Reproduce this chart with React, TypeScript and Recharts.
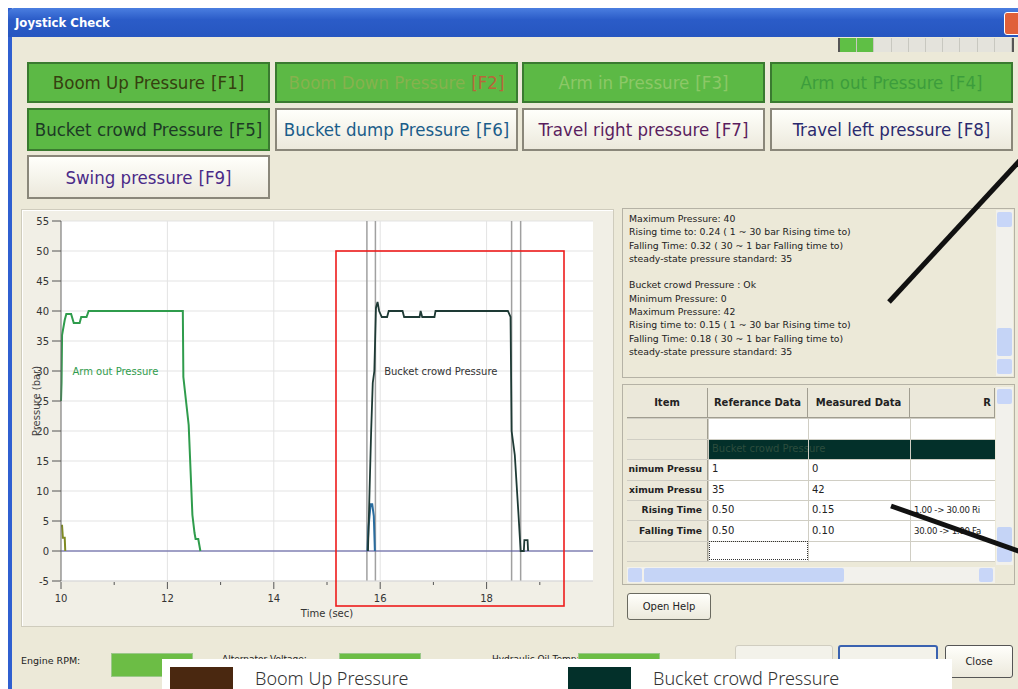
import React from "react"
import { LineChart, Line, XAxis, YAxis, CartesianGrid, ReferenceLine, ReferenceDot } from "recharts"

// pressure traces, time in sec / pressure in bar
const boomUp = [
  { t: 10.0, p: 4.2 },
  { t: 10.02, p: 4.2 },
  { t: 10.035, p: 2.2 },
  { t: 10.07, p: 2.2 },
  { t: 10.08, p: 0 },
]

const armOut = [
  { t: 10.0, p: 25 },
  { t: 10.01, p: 28 },
  { t: 10.02, p: 36 },
  { t: 10.07, p: 38.5 },
  { t: 10.1, p: 39.5 },
  { t: 10.19, p: 39.5 },
  { t: 10.24, p: 38 },
  { t: 10.35, p: 38 },
  { t: 10.38, p: 39 },
  { t: 10.48, p: 39 },
  { t: 10.52, p: 40 },
  { t: 12.29, p: 40 },
  { t: 12.3, p: 29 },
  { t: 12.35, p: 25 },
  { t: 12.4, p: 21 },
  { t: 12.47, p: 6 },
  { t: 12.51, p: 3 },
  { t: 12.53, p: 2 },
  { t: 12.58, p: 2 },
  { t: 12.62, p: 0 },
]

const bucketDump = [
  { t: 15.76, p: 0 },
  { t: 15.78, p: 4 },
  { t: 15.82, p: 7.8 },
  { t: 15.85, p: 7.8 },
  { t: 15.88, p: 5.8 },
  { t: 15.9, p: 0 },
]

const bucketCrowd = [
  { t: 15.77, p: 0 },
  { t: 15.8, p: 10 },
  { t: 15.83, p: 20 },
  { t: 15.86, p: 28 },
  { t: 15.89, p: 30 },
  { t: 15.92, p: 40.5 },
  { t: 15.95, p: 41.5 },
  { t: 15.98, p: 40 },
  { t: 16.03, p: 39 },
  { t: 16.13, p: 39 },
  { t: 16.16, p: 40 },
  { t: 16.42, p: 40 },
  { t: 16.45, p: 39 },
  { t: 16.74, p: 39 },
  { t: 16.76, p: 40 },
  { t: 16.79, p: 39 },
  { t: 17.02, p: 39 },
  { t: 17.04, p: 40 },
  { t: 18.4, p: 40 },
  { t: 18.45, p: 39 },
  { t: 18.47, p: 20 },
  { t: 18.53, p: 16 },
  { t: 18.6, p: 6 },
  { t: 18.64, p: 0 },
  { t: 18.7, p: 0 },
  { t: 18.71, p: 1.8 },
  { t: 18.77, p: 1.8 },
  { t: 18.78, p: 0 },
]

const cursors = [15.75, 15.91, 18.47, 18.64]
const timeTicks = [10, 11, 12, 13, 14, 15, 16, 17, 18, 19]
const pressureTicks = [-5, 0, 5, 10, 15, 20, 25, 30, 35, 40, 45, 50, 55]

const buttons = [
  { name: "Boom Up Pressure", key: "[F1]", on: true, color: "#35400f", keyColor: "#35400f" },
  { name: "Boom Down Pressure", key: "[F2]", on: true, color: "#86b24e", keyColor: "#b8663a" },
  { name: "Arm in Pressure", key: "[F3]", on: true, color: "#8cc867", keyColor: "#8cc867" },
  { name: "Arm out Pressure", key: "[F4]", on: true, color: "#3c9d3c", keyColor: "#3c9d3c" },
  { name: "Bucket crowd Pressure", key: "[F5]", on: true, color: "#1d3a26", keyColor: "#1d3a26" },
  { name: "Bucket dump Pressure", key: "[F6]", on: false, color: "#1b5d8a", keyColor: "#1b5d8a" },
  { name: "Travel right pressure", key: "[F7]", on: false, color: "#5a1d5e", keyColor: "#5a1d5e" },
  { name: "Travel left pressure", key: "[F8]", on: false, color: "#2b2a6e", keyColor: "#2b2a6e" },
  { name: "Swing pressure", key: "[F9]", on: false, color: "#4a2a88", keyColor: "#4a2a88" },
]

const infoLines = [
  "Maximum Pressure: 40",
  "Rising time to: 0.24 ( 1 ~ 30 bar Rising time to)",
  "Falling Time: 0.32 ( 30 ~ 1 bar Falling time to)",
  "steady-state pressure standard: 35",
  "",
  "Bucket crowd Pressure : Ok",
  "Minimum Pressure: 0",
  "Maximum Pressure: 42",
  "Rising time to: 0.15 ( 1 ~ 30 bar Rising time to)",
  "Falling Time: 0.18 ( 30 ~ 1 bar Falling time to)",
  "steady-state pressure standard: 35",
]

const tableHeader = ["Item", "Referance Data", "Measured Data", "R"]
const tableRows = [
  ["nimum Pressu", "1", "0", ""],
  ["ximum Pressu", "35", "42", ""],
  ["Rising Time", "0.50", "0.15", "1.00 -> 30.00 Ri"],
  ["Falling Time", "0.50", "0.10", "30.00 -> 1.00 Fa"],
]

const legendItems = [
  { name: "Boom Up Pressure", color: "#4a2810" },
  { name: "Bucket crowd Pressure", color: "#03302a" },
]

const uiFont = "'DejaVu Sans Condensed', 'DejaVu Sans', sans-serif"
const smallFont = "'DejaVu Sans', sans-serif"

function TimeTick(props: any) {
  const { x, y, payload } = props
  const major = payload.value % 2 === 0
  return (
    <g>
      <line x1={x} x2={x} y1={y + 1} y2={y + (major ? 8 : 4)} stroke="#555" />
      {major && (
        <text x={x} y={y + 21} textAnchor="middle" fontSize={10} fill="#333" fontFamily={smallFont}>
          {payload.value}
        </text>
      )}
    </g>
  )
}

function Btn({ b, left, top, w, h }: any) {
  return (
    <div
      style={{
        position: "absolute",
        left,
        top,
        width: w,
        height: h,
        boxSizing: "border-box",
        border: b.on ? "2px solid #3a7a30" : "2px solid #8a877a",
        background: b.on ? "#5cb945" : "linear-gradient(#fffffb, #ece9dc)",
        display: "flex",
        alignItems: "center",
        justifyContent: "center",
        fontFamily: uiFont,
        fontSize: 18.5,
        color: b.color,
        whiteSpace: "nowrap",
      }}
    >
      {b.name} <span style={{ color: b.keyColor, marginLeft: 6 }}>{b.key}</span>
    </div>
  )
}

export default function App() {
  const colX = [27, 275, 522, 770]
  const rowY = [62, 108]
  const cols = [627, 708, 808, 910, 995]
  return (
    <div style={{ position: "absolute", left: 0, top: 0, width: 1018, height: 689, background: "#fff", overflow: "hidden" }}>
      {/* window frame */}
      <div style={{ position: "absolute", left: 8, top: 8, width: 1020, height: 690, background: "#ece9d8", borderLeft: "4px solid #2f5fd0" }} />
      <div
        style={{
          position: "absolute",
          left: 8,
          top: 8,
          width: 1010,
          height: 29,
          background: "linear-gradient(#4a7ee0, #2b5cc8 40%, #2656c0)",
          borderTopLeftRadius: 6,
          color: "#fff",
          fontFamily: uiFont,
          fontWeight: "bold",
          fontSize: 13,
          lineHeight: "29px",
          paddingLeft: 7,
          boxSizing: "border-box",
        }}
      >
        Joystick Check
      </div>
      <div style={{ position: "absolute", left: 1004, top: 12, width: 20, height: 21, background: "#e0603a", border: "1px solid #fff", borderRadius: 3 }} />

      {/* progress */}
      <div style={{ position: "absolute", left: 838, top: 38, width: 172, height: 14, background: "#e4e3dc", borderLeft: "2px solid #555", borderRight: "2px solid #555", display: "flex" }}>
        {Array.from({ length: 10 }).map((_, i) => (
          <div key={i} style={{ flex: 1, borderRight: "1px solid #c8c8c0", background: i < 2 ? "#5fbf45" : "transparent" }} />
        ))}
      </div>

      {buttons.slice(0, 8).map((b, i) => (
        <Btn key={b.key} b={b} left={colX[i % 4]} top={rowY[Math.floor(i / 4)]} w={243} h={i < 4 ? 41 : 43} />
      ))}
      <Btn b={buttons[8]} left={27} top={155} w={243} h={44} />

      {/* chart panel */}
      <div style={{ position: "absolute", left: 21, top: 209, width: 591, height: 416, border: "1px solid #cfccbd", boxShadow: "inset 1px 1px 0 #fff", background: "#f1efe6" }} />
      <div style={{ position: "absolute", left: 10, top: 208 }}>
        <LineChart width={602} height={418} margin={{ top: 13, right: 19, bottom: 0, left: 0 }}>
          <CartesianGrid stroke="#e3e3e3" fill="#fff" verticalValues={[12, 14, 16, 18]} horizontalValues={pressureTicks} />
          <XAxis
            type="number"
            dataKey="t"
            domain={[10, 20]}
            ticks={timeTicks}
            interval={0}
            height={45}
            tickSize={0}
            tickMargin={0}
            tickLine={false}
            axisLine={{ stroke: "#d8d8d8" }}
            tick={<TimeTick />}
            label={{ value: "Time (sec)", position: "insideBottom", offset: 9, fontSize: 10, fill: "#333", fontFamily: smallFont }}
          />
          <YAxis
            type="number"
            dataKey="p"
            domain={[-5, 55]}
            ticks={pressureTicks}
            interval={0}
            width={51}
            tickSize={9}
            tickMargin={3}
            axisLine={{ stroke: "#666" }}
            tickLine={{ stroke: "#555" }}
            tick={{ fontSize: 10, fill: "#333", fontFamily: smallFont }}
            label={{ value: "Pressure (bar)", angle: -90, position: "center", dx: 1, fontSize: 10, fill: "#444", fontFamily: smallFont }}
          />
          {cursors.map((c) => (
            <ReferenceLine key={c} x={c} stroke="#a0a0a0" strokeWidth={1.5} />
          ))}
          <ReferenceLine y={0} stroke="#50509c" strokeWidth={1.2} />
          <Line data={boomUp} dataKey="p" type="linear" stroke="#7f8a23" strokeWidth={2} dot={false} isAnimationActive={false} />
          <Line data={armOut} dataKey="p" type="linear" stroke="#2f9c4c" strokeWidth={2} dot={false} isAnimationActive={false} />
          <Line data={bucketDump} dataKey="p" type="linear" stroke="#2a6c9e" strokeWidth={2} dot={false} isAnimationActive={false} />
          <Line data={bucketCrowd} dataKey="p" type="linear" stroke="#1e3a35" strokeWidth={1.8} dot={false} isAnimationActive={false} />
          <ReferenceDot x={10.12} y={30} r={0} label={{ value: "Arm out Pressure", position: "right", fontSize: 10, fill: "#2f9c4c", fontFamily: smallFont }} />
          <ReferenceDot x={15.98} y={30} r={0} label={{ value: "Bucket crowd Pressure", position: "right", fontSize: 10, fill: "#333", fontFamily: smallFont }} />
        </LineChart>
      </div>

      {/* info text panel */}
      <div style={{ position: "absolute", left: 622, top: 208, width: 393, height: 170, border: "1px solid #b5b2a5", boxSizing: "border-box", background: "#ece9d8", fontFamily: smallFont, fontSize: 9.3, color: "#222", padding: "3px 0 0 6px", lineHeight: "13.3px" }}>
        {infoLines.map((l, i) => (
          <div key={i} style={{ height: 13.3, whiteSpace: "nowrap" }}>{l}</div>
        ))}
      </div>
      <div style={{ position: "absolute", left: 996, top: 210, width: 17, height: 166, background: "#f2f1ec" }}>
        <div style={{ position: "absolute", top: 2, left: 1, width: 15, height: 15, background: "#c8d6f8", borderRadius: 2 }} />
        <div style={{ position: "absolute", top: 118, left: 1, width: 15, height: 28, background: "#c5d4f6", borderRadius: 2 }} />
        <div style={{ position: "absolute", top: 149, left: 1, width: 15, height: 15, background: "#c8d6f8", borderRadius: 2 }} />
      </div>

      {/* table */}
      <div style={{ position: "absolute", left: 622, top: 384, width: 393, height: 201, border: "1px solid #b5b2a5", boxSizing: "border-box", background: "#ece9d8" }} />
      <div style={{ position: "absolute", left: 627, top: 388, width: 368, height: 173, background: "#fff", fontFamily: smallFont, fontSize: 10, color: "#222" }}>
        {tableHeader.map((h, i) => (
          <div key={h} style={{ position: "absolute", left: cols[i] - 627, top: 0, width: cols[i + 1] - cols[i], height: 30, background: "#ebe8da", borderRight: "1px solid #a09d90", borderBottom: "1px solid #a09d90", boxSizing: "border-box", fontWeight: "bold", textAlign: i === 3 ? "right" : "center", lineHeight: "30px", paddingRight: i === 3 ? 3 : 0 }}>
            {h}
          </div>
        ))}
        <div style={{ position: "absolute", left: 0, top: 30, width: 81, height: 143, background: "#ebe8da", borderRight: "1px solid #a09d90", boxSizing: "border-box" }} />
        <div style={{ position: "absolute", left: 81, top: 51, width: 287, height: 20, background: "#03302a", color: "#2d4d3d", lineHeight: "20px", paddingLeft: 4, boxSizing: "border-box" }}>Bucket crowd Pressure</div>
        {[30, 51, 71, 92, 112, 132, 153, 173].map((y) => (
          <div key={y} style={{ position: "absolute", left: 0, top: y, width: 368, height: 1, background: "#d0cec4" }} />
        ))}
        {[708, 808, 910].map((x) => (
          <div key={x} style={{ position: "absolute", left: x - 627, top: 30, width: 1, height: 143, background: "#d0cec4" }} />
        ))}
        {tableRows.map((r, ri) =>
          r.map((c, ci) => (
            <div
              key={ri + "-" + ci}
              style={{
                position: "absolute",
                left: cols[ci] - 627 + (ci === 0 ? 0 : 4),
                top: 71 + ri * 20.5,
                width: cols[ci + 1] - cols[ci] - 4,
                height: 20,
                lineHeight: "20px",
                whiteSpace: "nowrap",
                fontWeight: ci === 0 ? "bold" : "normal",
                fontSize: ci === 0 ? 9.2 : ci === 3 ? 8.6 : 10,
                letterSpacing: ci === 3 ? -0.3 : 0,
                textAlign: ci === 0 ? "right" : "left",
                paddingRight: ci === 0 ? 2 : 0,
                boxSizing: "border-box",
              }}
            >
              {c}
            </div>
          ))
        )}
        <div style={{ position: "absolute", left: 82, top: 153, width: 99, height: 19, border: "1px dotted #333", boxSizing: "border-box" }} />
      </div>
      <div style={{ position: "absolute", left: 996, top: 387, width: 17, height: 178, background: "#f2f1ec" }}>
        <div style={{ position: "absolute", top: 2, left: 1, width: 15, height: 15, background: "#c8d6f8", borderRadius: 2 }} />
        <div style={{ position: "absolute", top: 140, left: 1, width: 15, height: 20, background: "#c5d4f6", borderRadius: 2 }} />
        <div style={{ position: "absolute", top: 160, left: 1, width: 15, height: 15, background: "#c8d6f8", borderRadius: 2 }} />
      </div>
      <div style={{ position: "absolute", left: 627, top: 567, width: 368, height: 16, background: "#f2f1ec" }}>
        <div style={{ position: "absolute", left: 1, top: 1, width: 14, height: 14, background: "#c8d6f8", borderRadius: 2 }} />
        <div style={{ position: "absolute", left: 17, top: 1, width: 200, height: 14, background: "#c5d4f6", borderRadius: 2 }} />
        <div style={{ position: "absolute", left: 352, top: 1, width: 14, height: 14, background: "#c8d6f8", borderRadius: 2 }} />
      </div>
      <div style={{ position: "absolute", left: 627, top: 593, width: 84, height: 27, border: "1px solid #6a6a60", borderRadius: 3, boxSizing: "border-box", background: "linear-gradient(#fffffb, #ece9dc)", fontFamily: smallFont, fontSize: 10, textAlign: "center", lineHeight: "25px", color: "#222" }}>
        Open Help
      </div>

      {/* bottom status row */}
      <div style={{ position: "absolute", left: 21, top: 655, fontFamily: smallFont, fontSize: 9.5, color: "#222" }}>Engine RPM:</div>
      <div style={{ position: "absolute", left: 222, top: 654, fontFamily: smallFont, fontSize: 9, color: "#222" }}>Alternator Voltage:</div>
      <div style={{ position: "absolute", left: 492, top: 654, fontFamily: smallFont, fontSize: 9, color: "#222" }}>Hydraulic Oil Temp:</div>
      {[111, 339, 578].map((x) => (
        <div key={x} style={{ position: "absolute", left: x, top: 653, width: 82, height: 24, background: "#6cbd45", border: "1px solid #9bc88a", boxSizing: "border-box" }} />
      ))}
      <div style={{ position: "absolute", left: 735, top: 645, width: 96, height: 36, border: "1px solid #d0cdc0", borderRadius: 3, background: "#f3f2ea" }} />
      <div style={{ position: "absolute", left: 838, top: 645, width: 100, height: 36, border: "2px solid #3a62b0", borderRadius: 3, boxSizing: "border-box", background: "#f3f2ea" }} />
      <div style={{ position: "absolute", left: 945, top: 645, width: 68, height: 33, border: "1px solid #555", borderRadius: 3, boxSizing: "border-box", background: "linear-gradient(#fffffb, #ece9dc)", fontFamily: smallFont, fontSize: 10, textAlign: "center", lineHeight: "31px", color: "#222" }}>
        Close
      </div>

      {/* legend overlay */}
      <div style={{ position: "absolute", left: 162, top: 659, width: 790, height: 30, background: "#fff" }}>
        {legendItems.map((it, i) => (
          <div key={it.name} style={{ position: "absolute", left: 8 + i * 398, top: 8, display: "flex" }}>
            <div style={{ width: 63, height: 22, background: it.color }} />
            <div style={{ marginLeft: 22, marginTop: 2, fontFamily: "'Noto Sans', sans-serif", fontWeight: 300, fontSize: 18, color: "#333", lineHeight: "18px", whiteSpace: "nowrap" }}>{it.name}</div>
          </div>
        ))}
      </div>

      {/* red highlight box and annotation strokes */}
      <svg style={{ position: "absolute", left: 0, top: 0 }} width={1018} height={689}>
        <rect x={336} y={251} width={228} height={355} fill="none" stroke="#ee1c1c" strokeWidth={1.6} />
        <line x1={1024} y1={156} x2={889} y2={302} stroke="#111" strokeWidth={5} />
        <line x1={891} y1={506} x2={1024} y2={553} stroke="#111" strokeWidth={5} />
      </svg>
    </div>
  )
}
